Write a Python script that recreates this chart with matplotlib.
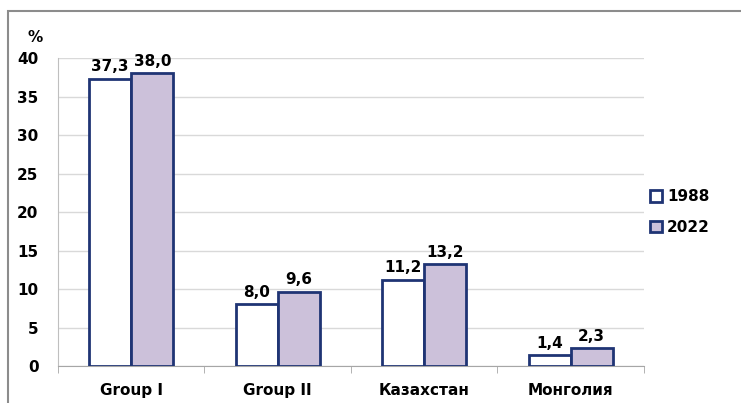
import numpy as np
import matplotlib
matplotlib.use('Agg')
import matplotlib.pyplot as plt
from matplotlib.patches import Rectangle

categories = ['Group I', 'Group II', 'Казахстан', 'Монголия']
years = ['1988', '2022']
values_1988 = [37.3, 8.0, 11.2, 1.4]
values_2022 = [38.0, 9.6, 13.2, 2.3]
y_ticks = [0, 5, 10, 15, 20, 25, 30, 35, 40]

edge = '#1F3474'
fills = ['#FFFFFF', '#CCC1DA']

plt.rcParams['font.family'] = ['DejaVu Sans']
plt.rcParams['font.weight'] = 'bold'

fig = plt.figure(figsize=(7.41, 4.03), dpi=100)
ax = fig.add_axes([0.0783, 0.0918, 0.7907, 0.7642])

x = np.arange(len(categories))
w = 0.287
series = [values_1988, values_2022]
for i, vals in enumerate(series):
    pos = x + (i - 0.5) * w
    bars = ax.bar(pos, vals, w, color=fills[i], edgecolor=edge, linewidth=2,
                  label=years[i], zorder=3)
    for b, v in zip(bars, vals):
        ax.text(b.get_x() + b.get_width() / 2, v + 0.6, f'{v:.1f}'.replace('.', ','),
                ha='center', va='bottom', fontsize=11, fontweight='bold')

ax.set_xlim(-0.5, len(categories) - 0.5)
ax.set_ylim(0, 40)
ax.set_yticks(y_ticks)
ax.yaxis.grid(True, color='#D9D9D9', linewidth=1, zorder=0)
ax.set_xticks(x)
ax.set_xticklabels(categories, fontsize=11, fontweight='bold')
ax.set_xticks(np.arange(len(categories) + 1) - 0.5, minor=True)
ax.tick_params(axis='x', which='major', length=0, pad=12)
ax.tick_params(axis='x', which='minor', length=5, color='#A6A6A6', direction='out')
ax.tick_params(axis='y', length=0, labelsize=11, pad=14)
for s in ['top', 'right']:
    ax.spines[s].set_visible(False)
ax.spines['left'].set_color('#BFBFBF')
ax.spines['bottom'].set_color('#A6A6A6')

fig.text(35 / 741, 1 - 37 / 403, '%', fontsize=11, fontweight='bold',
         ha='center', va='center')

leg = ax.legend(loc='center left', bbox_to_anchor=(1.0, 0.5), frameon=False,
                borderaxespad=0.0, fontsize=11, handlelength=0.8,
                handleheight=0.8, handletextpad=0.3, labelspacing=1.0)
for p in leg.get_patches():
    p.set_linewidth(2)

fig.patches.append(Rectangle((8 / 741, -0.05), 1.0, 1 - 11 / 403 + 0.05,
                             transform=fig.transFigure, fill=False,
                             edgecolor='#8C8C8C', linewidth=1.5, clip_on=False))

fig.savefig('out.png', dpi=100)
